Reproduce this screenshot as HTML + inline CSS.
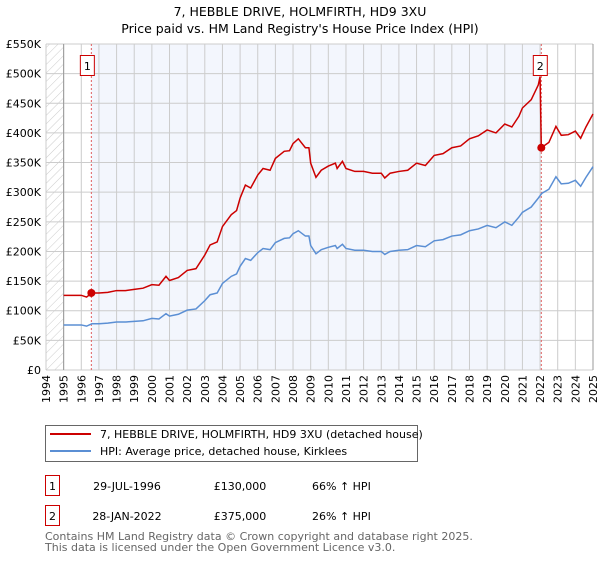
<!DOCTYPE html>
<html><head><meta charset="utf-8"><style>
body{margin:0;background:#fff;font-family:"DejaVu Sans","Liberation Sans",sans-serif;}
</style></head><body>
<svg width="600" height="560" font-family="DejaVu Sans, Liberation Sans, sans-serif">
<defs><pattern id="hatch" width="6" height="6" patternUnits="userSpaceOnUse" patternTransform="rotate(45)"><line x1="0" y1="0" x2="0" y2="6" stroke="#ccc" stroke-width="1"/></pattern></defs>
<text x="300" y="16" text-anchor="middle" font-size="12.5">7, HEBBLE DRIVE, HOLMFIRTH, HD9 3XU</text>
<text x="300" y="33" text-anchor="middle" font-size="12.5">Price paid vs. HM Land Registry's House Price Index (HPI)</text>
<g id="plot"></g>
<g>
<rect x="45.5" y="425.5" width="372" height="36" fill="#fff" stroke="#666"/>
<line x1="50" y1="434" x2="91" y2="434" stroke="#cc0000" stroke-width="2"/>
<text x="100" y="438" font-size="11">7, HEBBLE DRIVE, HOLMFIRTH, HD9 3XU (detached house)</text>
<line x1="50" y1="451" x2="91" y2="451" stroke="#5b8fd4" stroke-width="2"/>
<text x="100" y="455" font-size="11">HPI: Average price, detached house, Kirklees</text>
</g>
<g font-size="11">
<rect x="45.5" y="475.5" width="14" height="20" fill="#fff" stroke="#cc0000"/><text x="52.5" y="490" text-anchor="middle">1</text>
<text x="127" y="490" text-anchor="middle">29-JUL-1996</text><text x="240" y="490" text-anchor="middle">£130,000</text><text x="312" y="490">66% ↑ HPI</text>
<rect x="45.5" y="505.5" width="14" height="20" fill="#fff" stroke="#cc0000"/><text x="52.5" y="520" text-anchor="middle">2</text>
<text x="127" y="520" text-anchor="middle">28-JAN-2022</text><text x="240" y="520" text-anchor="middle">£375,000</text><text x="312" y="520">26% ↑ HPI</text>
</g>
<text x="45" y="540" font-size="11" fill="#666">Contains HM Land Registry data © Crown copyright and database right 2025.</text>
<text x="45" y="551" font-size="11" fill="#666">This data is licensed under the Open Government Licence v3.0.</text>
</svg>
<script>
const hpiYears=[1995.0,1995.5,1996.0,1996.3,1996.6,1997.0,1997.5,1998.0,1998.5,1999.0,1999.5,2000.0,2000.4,2000.8,2001.0,2001.5,2002.0,2002.5,2003.0,2003.3,2003.7,2004.0,2004.5,2004.8,2005.0,2005.3,2005.6,2006.0,2006.3,2006.7,2007.0,2007.5,2007.8,2008.0,2008.3,2008.7,2008.9,2009.0,2009.3,2009.6,2010.0,2010.4,2010.5,2010.8,2011.0,2011.5,2012.0,2012.5,2013.0,2013.2,2013.5,2014.0,2014.5,2015.0,2015.5,2016.0,2016.5,2017.0,2017.5,2018.0,2018.5,2019.0,2019.5,2020.0,2020.4,2020.8,2021.0,2021.5,2021.9,2022.1,2022.5,2022.9,2023.2,2023.6,2024.0,2024.3,2024.6,2025.0];
const hpiValues=[76,76,76,74,78,78,79,81,81,82,83,87,86,95,91,94,101,103,117,127,130,146,158,162,175,188,185,198,205,203,215,222,223,230,235,226,226,210,196,203,207,210,205,212,205,202,202,200,200,195,200,202,203,210,208,218,220,226,228,235,238,244,240,250,244,258,266,275,290,298,305,326,314,315,320,310,325,343];
const redYears=[1995.0,1995.5,1996.0,1996.3,1996.6,1997.0,1997.5,1998.0,1998.5,1999.0,1999.5,2000.0,2000.4,2000.8,2001.0,2001.5,2002.0,2002.5,2003.0,2003.3,2003.7,2004.0,2004.5,2004.8,2005.0,2005.3,2005.6,2006.0,2006.3,2006.7,2007.0,2007.5,2007.8,2008.0,2008.3,2008.7,2008.9,2009.0,2009.3,2009.6,2010.0,2010.4,2010.5,2010.8,2011.0,2011.5,2012.0,2012.5,2013.0,2013.2,2013.5,2014.0,2014.5,2015.0,2015.5,2016.0,2016.5,2017.0,2017.5,2018.0,2018.5,2019.0,2019.5,2020.0,2020.4,2020.8,2021.0,2021.5,2021.9,2022.0,2022.07,2022.5,2022.9,2023.2,2023.6,2024.0,2024.3,2024.6,2025.0];
const redValues=[126,126,126,123,130,130,131,134,134,136,138,144,143,158,151,156,168,171,194,211,216,242,262,269,290,312,307,329,340,337,357,369,370,382,390,375,375,349,325,337,344,349,340,352,340,335,335,332,332,324,332,335,337,349,345,362,365,375,378,390,395,405,400,415,410,428,442,456,481,495,375,384,411,396,397,403,391,410,432];
const saleYears=[1996.57,2022.07];
const saleValues=[130,375];
const saleLabels=["1","2"];
const yTicks=[0,50,100,150,200,250,300,350,400,450,500,550];
const yTickLabels=["£0","£50K","£100K","£150K","£200K","£250K","£300K","£350K","£400K","£450K","£500K","£550K"];
const xTicks=[1994,1995,1996,1997,1998,1999,2000,2001,2002,2003,2004,2005,2006,2007,2008,2009,2010,2011,2012,2013,2014,2015,2016,2017,2018,2019,2020,2021,2022,2023,2024,2025];

const NS="http://www.w3.org/2000/svg";
const L=46,R=593,T=44,B=370;
const xs=y=>L+(y-1994)/(2025-1994)*(R-L);
const ys=v=>B-v/550*(B-T);
const g=document.getElementById('plot');
function mk(tag,attrs,parent){const e=document.createElementNS(NS,tag);for(const k in attrs)e.setAttribute(k,attrs[k]);(parent||g).appendChild(e);return e;}
let e;
e=mk('rect',{x:L,y:T,width:xs(1995)-L,height:B-T,fill:'url(#hatch)'});


e=mk('rect',{x:xs(saleYears[0]),y:T,width:xs(saleYears[1])-xs(saleYears[0]),height:B-T,fill:'#f3f6fd'});


yTicks.forEach((v,i)=>{
 e=mk('line',{x1:L,x2:R,y1:ys(v),y2:ys(v),stroke:'#ccc','stroke-width':1});
 
 
 e=mk('text',{x:L-5,y:ys(v)+4,'text-anchor':'end','font-size':11});
 e.textContent=yTickLabels[i];
 
 
});
xTicks.forEach(y=>{
 e=mk('line',{x1:xs(y),x2:xs(y),y1:T,y2:B,stroke:'#ccc','stroke-width':1});
 
 
 e=mk('text',{x:0,y:0,'text-anchor':'end','font-size':11,transform:`translate(${xs(y)+4},${B+5}) rotate(-90)`});
 e.textContent=y;
 
 
});
e=mk('line',{x1:xs(1995),x2:xs(1995),y1:T,y2:B,stroke:'#999'});


e=mk('line',{x1:R,x2:R,y1:T,y2:B,stroke:'#999'});


saleYears.forEach((y,i)=>{
 e=mk('line',{x1:xs(y),x2:xs(y),y1:T,y2:B,stroke:'#e06060','stroke-dasharray':'2,2','stroke-width':1});
 
 
});
e=mk('polyline',{points:hpiYears.map((y,i)=>xs(y)+','+ys(hpiValues[i])).join(' '),fill:'none',stroke:'#5b8fd4','stroke-width':1.5});


e=mk('polyline',{points:redYears.map((y,i)=>xs(y)+','+ys(redValues[i])).join(' '),fill:'none',stroke:'#cc0000','stroke-width':1.5});


saleYears.forEach((y,i)=>{
 e=mk('circle',{cx:xs(y),cy:ys(saleValues[i]),r:4,fill:'#cc0000'});
 
 
 e=mk('rect',{x:xs(y)-(i?8:11),y:55.5,width:14,height:20,fill:'#fff',stroke:'#cc0000'});
 
 
 e=mk('text',{x:xs(y)-(i?1:4),y:70,'text-anchor':'middle','font-size':11});
 e.textContent=saleLabels[i];
 
 
});
</script>
</body></html>
